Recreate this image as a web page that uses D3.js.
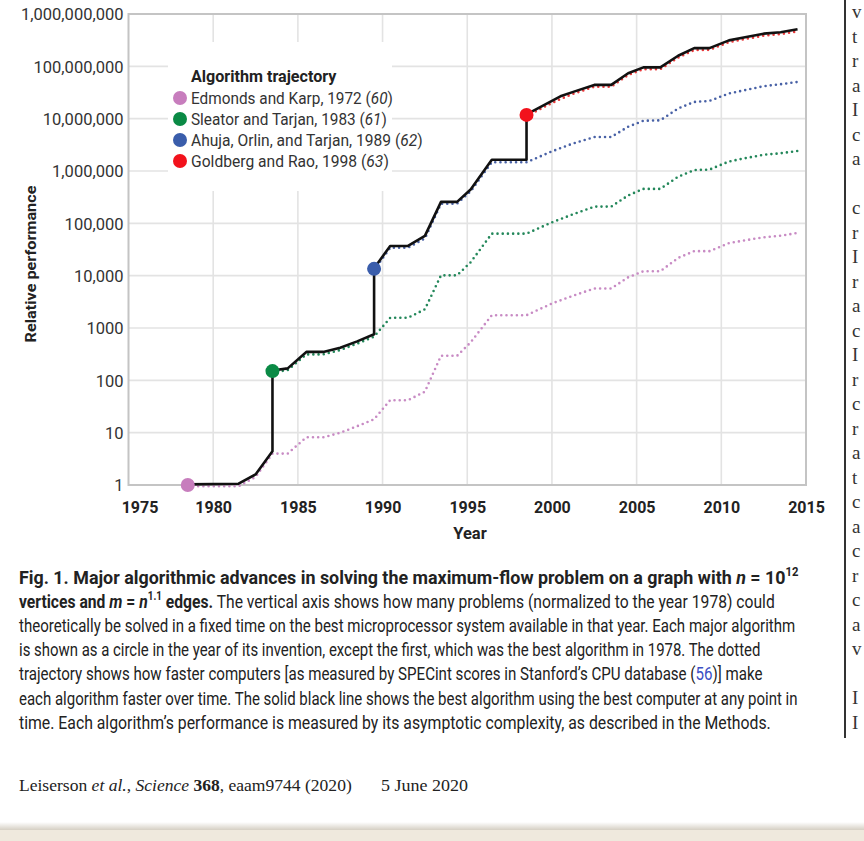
<!DOCTYPE html>
<html><head><meta charset="utf-8">
<script src="https://cdn.jsdelivr.net/npm/d3@7"></script>
<style>
body{margin:0;background:#fff;}
svg{display:block;}
</style></head>
<body><svg id="c" width="864" height="841"></svg>
<script>
// ---------- data ----------
const yearTicks = [1975,1980,1985,1990,1995,2000,2005,2010,2015];
const valueTicks = [1,10,100,1000,1e4,1e5,1e6,1e7,1e8,1e9];
const valueTickLabels = ["1","10","100","1000","10,000","100,000","1,000,000","10,000,000","100,000,000","1,000,000,000"];

const algorithmNames = ["Edmonds and Karp, 1972","Sleator and Tarjan, 1983","Ahuja, Orlin, and Tarjan, 1989","Goldberg and Rao, 1998"];
const algorithmRefs = ["60","61","62","63"];
const algorithmYears = [1978.5,1983.5,1989.5,1998.5];
const algorithmValues = [1,150,13500,11800000];

const edmondsKarp = [[1978.5,1],[1981.5,1],[1982.5,1.5],[1983.5,4.2],[1984.4,4.2],[1985.5,8.6],[1986.5,8.6],[1987.5,10.5],[1988.5,14],[1989.5,19],[1990.45,44],[1991.5,44],[1992.5,64],[1993.45,310],[1994.4,310],[1995.2,560],[1996.45,1850],[1998.5,1850],[2000.0,3100],[2001.2,4300],[2002.5,6000],[2003.5,6000],[2004.5,9800],[2005.4,12800],[2006.4,12800],[2007.45,23000],[2008.4,31000],[2009.3,31000],[2010.45,44000],[2011.4,50000],[2012.5,57000],[2013.5,61000],[2014.5,69000]];
const sleatorTarjan = [[1983.5,150],[1984.4,165],[1985.5,330],[1986.5,330],[1987.5,400],[1988.5,530],[1989.5,720],[1990.45,1650],[1991.5,1650],[1992.5,2400],[1993.45,10700],[1994.4,10700],[1995.2,19000],[1996.45,67000],[1998.5,67000],[2000.0,110000],[2001.2,155000],[2002.5,220000],[2003.5,220000],[2004.5,360000],[2005.4,480000],[2006.4,480000],[2007.45,820000],[2008.4,1100000],[2009.3,1120000],[2010.45,1600000],[2011.4,1850000],[2012.5,2150000],[2013.5,2300000],[2014.5,2550000]];
const ahujaOrlinTarjan = [[1989.5,13500],[1990.45,36000],[1991.5,36000],[1992.5,54000],[1993.45,250000],[1994.4,250000],[1995.2,430000],[1996.45,1550000],[1998.5,1550000],[2000.0,2500000],[2001.2,3500000],[2002.5,4700000],[2003.5,4700000],[2004.5,7400000],[2005.4,9600000],[2006.4,9800000],[2007.45,16500000],[2008.4,22000000],[2009.3,23000000],[2010.45,32000000],[2011.4,37000000],[2012.5,44000000],[2013.5,48000000],[2014.5,53000000]];
const goldbergRao = [[1998.5,11800000],[2000.0,21000000],[2000.5,25000000],[2001.2,31000000],[2002.5,43000000],[2003.5,43000000],[2004.5,72000000],[2005.4,93000000],[2006.4,93000000],[2007.45,155000000],[2008.4,215000000],[2009.3,218000000],[2010.45,305000000],[2011.4,350000000],[2012.5,405000000],[2013.5,435000000],[2014.5,490000000]];
const bestOverall = [[1978.5,1],[1981.5,1.03],[1982.5,1.55],[1983.5,4.3],[1983.5,150],[1984.4,165],[1985.5,340],[1986.5,340],[1987.5,410],[1988.5,540],[1989.5,740],[1989.5,13500],[1990.45,36000],[1991.5,36000],[1992.5,56000],[1993.45,250000],[1994.4,250000],[1995.2,430000],[1996.45,1600000],[1998.5,1600000],[1998.5,11800000],[2000.5,26000000],[2001.3,32000000],[2002.5,43000000],[2003.5,43000000],[2004.5,72000000],[2005.4,93000000],[2006.4,93000000],[2007.45,155000000],[2008.4,217000000],[2009.3,217000000],[2010.45,305000000],[2011.4,350000000],[2012.5,410000000],[2013.5,435000000],[2014.5,500000000]];

const trajectories = [edmondsKarp, sleatorTarjan, ahujaOrlinTarjan, goldbergRao];
const circleColors = ["#c77dbd","#0a8a45","#3a5dab","#f2121c"];
const dotColors = ["#c88bc4","#23875a","#4861a6","#e8383a"];

const captionLines = [
  [["Fig. 1. Major algorithmic advances in solving the maximum-flow problem on a graph with ","b"],["n","bi"],[" = 10","b"],["12","bsup"]],
  [["vertices and ","b"],["m","bi"],[" = ","b"],["n","bi"],["1.1","bsup"],[" edges.","b"],[" The vertical axis shows how many problems (normalized to the year 1978) could","r"]],
  [["theoretically be solved in a fixed time on the best microprocessor system available in that year. Each major algorithm","r"]],
  [["is shown as a circle in the year of its invention, except the first, which was the best algorithm in 1978. The dotted","r"]],
  [["trajectory shows how faster computers [as measured by SPECint scores in Stanford\u2019s CPU database (","r"],["56","link"],[")] make","r"]],
  [["each algorithm faster over time. The solid black line shows the best algorithm using the best computer at any point in","r"]],
  [["time. Each algorithm\u2019s performance is measured by its asymptotic complexity, as described in the Methods.","r"]]
];
const captionWidths = [780, 756, 777, 742, 744, 779, 752];
const sideLetters = ["v","t","r","a","I","c","a","","c","r","I","r","a","c","I","r","c","r","a","t","c","a","c","r","c","a","v","","I","I"];

// ---------- drawing ----------
const svg = d3.select("#c");
const FONT = "Roboto, 'Liberation Sans', sans-serif";
const x = d3.scaleLinear().domain([1975,2015]).range([128.5,806]);
const y = d3.scaleLog().domain([1,1e9]).range([485,14]);

function fitX(sel, x0, y0, w){
  const bw = sel.node().getBBox().width;
  sel.attr("transform", `translate(${x0},${y0}) scale(${w/bw},1)`);
}

// gridlines
const grid = svg.append("g");
grid.selectAll("line.h").data(valueTicks).join("line")
  .attr("x1",x(1975)).attr("x2",x(2015)).attr("y1",d=>y(d)).attr("y2",d=>y(d))
  .attr("stroke","#e3e3e3").attr("stroke-width",1.6);
grid.selectAll("line.v").data(yearTicks.slice(1,-1)).join("line")
  .attr("x1",d=>x(d)).attr("x2",d=>x(d)).attr("y1",y(1e9)).attr("y2",y(1))
  .attr("stroke","#e3e3e3").attr("stroke-width",1.6);
// frame
svg.append("rect").attr("x",x(1975)).attr("y",y(1e9)).attr("width",x(2015)-x(1975)).attr("height",y(1)-y(1e9))
  .attr("fill","none").attr("stroke","#c4c4c4").attr("stroke-width",2);

// axes via d3
const yAxis = d3.axisLeft(y).tickValues(valueTicks).tickFormat((d,i)=>valueTickLabels[i]).tickSize(0).tickPadding(5);
const ga = svg.append("g").attr("transform",`translate(${x(1975)},0)`).call(yAxis);
ga.select(".domain").remove();
ga.selectAll("text").attr("font-family",FONT).attr("font-size",16.5).attr("fill","#333").attr("dy","0.36em");
const xAxis = d3.axisBottom(x).tickValues(yearTicks).tickFormat(d3.format("d")).tickSize(0).tickPadding(17);
const gx = svg.append("g").attr("transform",`translate(0,${y(1)})`).call(xAxis);
gx.select(".domain").remove();
gx.selectAll("text").attr("font-family",FONT).attr("font-size",16).attr("font-weight",700).attr("fill","#222")
  .attr("dx",d=>d===1975?11:0);

svg.append("text").attr("x",470).attr("y",539).attr("text-anchor","middle")
  .attr("font-family",FONT).attr("font-size",16.5).attr("font-weight",700).attr("fill","#222").text("Year");
const yt = svg.append("text").attr("text-anchor","middle")
  .attr("font-family",FONT).attr("font-size",15).attr("font-weight",700).attr("fill","#222").text("Relative performance");
const ytw = yt.node().getBBox().width;
yt.attr("transform",`translate(36,264) rotate(-90) scale(${157/ytw},1)`);

// legend box
svg.append("rect").attr("x",168).attr("y",42).attr("width",224).attr("height",149).attr("fill","#fff");

// lines
const line = d3.line().x(d=>x(d[0])).y(d=>y(d[1]));
svg.append("g").attr("transform","translate(0,1.2)").selectAll("path").data(trajectories).join("path")
  .attr("d",line).attr("fill","none").attr("stroke",(d,i)=>dotColors[i])
  .attr("stroke-width",2.6).attr("stroke-linecap","round").attr("stroke-dasharray","0 5.2");
svg.append("path").datum(bestOverall).attr("d",line).attr("transform","translate(0,-0.6)")
  .attr("fill","none").attr("stroke","#111").attr("stroke-width",2.6).attr("stroke-linejoin","round");
svg.append("g").selectAll("circle").data(algorithmYears).join("circle")
  .attr("cx",d=>x(d)).attr("cy",(d,i)=>y(algorithmValues[i])).attr("r",7)
  .attr("fill",(d,i)=>circleColors[i]);

// legend
const lg = svg.append("g");
const lt = lg.append("text").attr("font-family",FONT).attr("font-size",17).attr("font-weight",700).attr("fill","#222").text("Algorithm trajectory");
fitX(lt,191,82,146);
const legW = [202,196,232,198];
algorithmNames.forEach((n,i)=>{
  const cy = 98 + i*21;
  lg.append("circle").attr("cx",180).attr("cy",cy).attr("r",7).attr("fill",circleColors[i]);
  const t = lg.append("text").attr("font-family",FONT).attr("font-size",17).attr("fill","#333");
  t.append("tspan").text(n+" (");
  t.append("tspan").attr("font-style","italic").text(algorithmRefs[i]);
  t.append("tspan").text(")");
  fitX(t,191,cy+6,legW[i]);
});

// caption
captionLines.forEach((parts,i)=>{
  const t = svg.append("text").attr("font-family",FONT).attr("font-size",19).attr("fill","#222");
  let sup = false;
  parts.forEach(([s,st])=>{
    const ts = t.append("tspan").text(s);
    if (st[0]==="b") ts.attr("font-weight",700);
    if (st==="bi") ts.attr("font-style","italic");
    if (st==="link") ts.attr("fill","#3b4fc4");
    if (st==="bsup"){ ts.attr("font-size",12).attr("dy",-8); sup=true; }
    else if (sup){ ts.attr("dy",8); sup=false; }
  });
  fitX(t,19,584+i*24.1,captionWidths[i]);
});

// footer
const ft = svg.append("text").attr("font-family","'Liberation Serif','DejaVu Serif',serif").attr("font-size",17).attr("fill","#222");
ft.append("tspan").text("Leiserson ");
ft.append("tspan").attr("font-style","italic").text("et al.");
ft.append("tspan").text(", ");
ft.append("tspan").attr("font-style","italic").text("Science");
ft.append("tspan").text(" ");
ft.append("tspan").attr("font-weight",700).text("368");
ft.append("tspan").text(", eaam9744 (2020)");
fitX(ft,19,791,333);
const fd = svg.append("text").attr("font-family","'Liberation Serif','DejaVu Serif',serif").attr("font-size",17).attr("fill","#222").text("5 June 2020");
fitX(fd,381,791,87);

// page edge decorations
svg.append("line").attr("x1",845).attr("x2",845).attr("y1",0).attr("y2",738).attr("stroke","#333").attr("stroke-width",2);
svg.append("g").selectAll("text").data(sideLetters).join("text")
  .attr("x",852).attr("y",(d,i)=>18+i*24.5)
  .attr("font-family","'Liberation Serif',serif").attr("font-size",19).attr("fill","#333").text(d=>d);
const grad = svg.append("defs").append("linearGradient").attr("id","sh").attr("x1",0).attr("x2",0).attr("y1",0).attr("y2",1);
grad.append("stop").attr("offset",0).attr("stop-color","#ffffff");
grad.append("stop").attr("offset",1).attr("stop-color","#d5cfc3");
svg.append("rect").attr("x",0).attr("y",822).attr("width",864).attr("height",8).attr("fill","url(#sh)");
svg.append("rect").attr("x",0).attr("y",830).attr("width",864).attr("height",11).attr("fill","#efe9dd");
</script>
</body></html>
